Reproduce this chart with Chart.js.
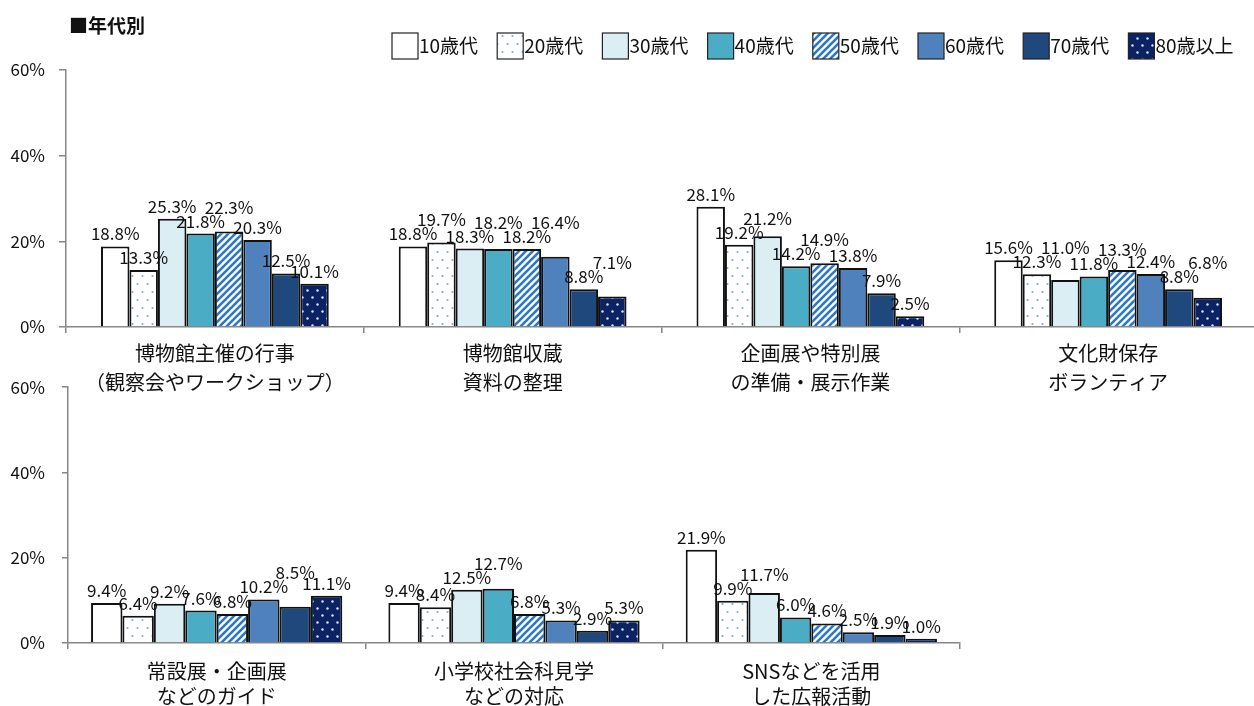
<!DOCTYPE html>
<html>
<head>
<meta charset="utf-8">
<script src="https://cdn.jsdelivr.net/npm/chart.js@4/dist/chart.umd.min.js"></script>
<style>
  body { margin: 0; width: 1254px; height: 706px; overflow: hidden; background: #fff; position: relative; }
  .box { position: absolute; left: 0; }
</style>
</head>
<body>
<div class="box" style="top:0"><canvas id="topChart" width="1262" height="400"></canvas></div>
<div class="box" style="top:360px"><canvas id="bottomChart" width="1254" height="346"></canvas></div>
<script>
// age groups (series)
var ageGroups = ['10歳代', '20歳代', '30歳代', '40歳代', '50歳代', '60歳代', '70歳代', '80歳以上'];

// categories
var topCategories = [
  ['博物館主催の行事', '（観察会やワークショップ）'],
  ['博物館収蔵', '資料の整理'],
  ['企画展や特別展', 'の準備・展示作業'],
  ['文化財保存', 'ボランティア']
];
var bottomCategories = [
  ['常設展・企画展', 'などのガイド'],
  ['小学校社会科見学', 'などの対応'],
  ['SNSなどを活用', 'した広報活動']
];

// values (%) per category, in age group order
var museumEvents      = [18.8, 13.3, 25.3, 21.8, 22.3, 20.3, 12.5, 10.1];
var collectionWork    = [18.8, 19.7, 18.3, 18.2, 18.2, 16.4, 8.8, 7.1];
var exhibitPrep       = [28.1, 19.2, 21.2, 14.2, 14.9, 13.8, 7.9, 2.5];
var heritageVolunteer = [15.6, 12.3, 11.0, 11.8, 13.3, 12.4, 8.8, 6.8];
var guideTours        = [9.4, 6.4, 9.2, 7.6, 6.8, 10.2, 8.5, 11.1];
var schoolVisits      = [9.4, 8.4, 12.5, 12.7, 6.8, 5.3, 2.9, 5.3];
var snsActivities     = [21.9, 9.9, 11.7, 6.0, 4.6, 2.5, 1.9, 1.0];

var yTicks = [0, 20, 40, 60];

var FONT = "'Noto Sans CJK JP', 'Noto Sans', sans-serif";
var AXIS_COLOR = '#868686';

// fills
function makePattern(kind) {
  var c = document.createElement('canvas');
  var g = c.getContext('2d');
  if (kind == 'dots') {
    c.width = 10; c.height = 16;
    g.fillStyle = '#ffffff'; g.fillRect(0, 0, 10, 16);
    g.fillStyle = '#7aaade';
    g.beginPath(); g.arc(2.5, 4, 1.1, 0, Math.PI * 2); g.fill();
    g.beginPath(); g.arc(7.5, 12, 1.1, 0, Math.PI * 2); g.fill();
  } else if (kind == 'navydots') {
    c.width = 10; c.height = 14;
    g.fillStyle = '#0b2263'; g.fillRect(0, 0, 10, 14);
    g.fillStyle = '#dfe6f5';
    g.beginPath(); g.arc(2.5, 3.5, 1.2, 0, Math.PI * 2); g.fill();
    g.beginPath(); g.arc(7.5, 10.5, 1.2, 0, Math.PI * 2); g.fill();
  } else {
    var s = 7;
    c.width = s; c.height = s;
    g.fillStyle = '#ffffff'; g.fillRect(0, 0, s, s);
    g.strokeStyle = '#2b78c8'; g.lineWidth = 2.6;
    g.beginPath();
    g.moveTo(-1, s + 1); g.lineTo(s + 1, -1);
    g.moveTo(-s / 2 - 1, s / 2 + 1); g.lineTo(s / 2 + 1, -s / 2 - 1);
    g.moveTo(s / 2 - 1, s * 1.5 + 1); g.lineTo(s * 1.5 + 1, s / 2 - 1);
    g.stroke();
  }
  return g.createPattern(c, 'repeat');
}

var fills = ['#ffffff', makePattern('dots'), '#daeef3', '#4bacc6', makePattern('stripes'), '#4f81bd', '#1f497d', makePattern('navydots')];

function buildDatasets(rows) {
  return ageGroups.map(function(name, i) {
    return {
      label: name,
      data: rows.map(function(r) { return r[i]; }),
      backgroundColor: fills[i],
      borderColor: '#111111',
      borderWidth: 2,
      barPercentage: 1
    };
  });
}

// value labels above the bars, nudged up when they collide with a neighbour
var valueLabels = {
  id: 'valueLabels',
  afterDatasetsDraw: function(chart) {
    var ctx = chart.ctx;
    var h = 14;
    ctx.save();
    ctx.font = '17px ' + FONT;
    ctx.fillStyle = '#111';
    ctx.textAlign = 'center';
    ctx.textBaseline = 'bottom';
    var n = chart.data.labels.length;
    for (var j = 0; j < n; j++) {
      var placed = [];
      chart.data.datasets.forEach(function(ds, i) {
        var bar = chart.getDatasetMeta(i).data[j];
        var txt = ds.data[j].toFixed(1) + '%';
        var w = ctx.measureText(txt).width;
        var lab = { x: bar.x, w: w, bottom: bar.y - 6 };
        lab.top = lab.bottom - h;
        var moved = true;
        while (moved) {
          moved = false;
          for (var k = 0; k < placed.length; k++) {
            var p = placed[k];
            var hor = Math.abs(lab.x - p.x) < (lab.w + p.w) / 2 - 10;
            var ver = lab.top < p.bottom - 5 && lab.bottom > p.top + 5;
            if (hor && ver) {
              lab.bottom = p.top;
              lab.top = lab.bottom - h;
              moved = true;
            }
          }
        }
        placed.push(lab);
        ctx.fillText(txt, lab.x, lab.bottom + 2);
      });
    }
    ctx.restore();
  }
};

var headerAndLegend = {
  id: 'headerAndLegend',
  afterDraw: function(chart) {
    var ctx = chart.ctx;
    ctx.save();
    ctx.fillStyle = '#111';
    ctx.font = 'bold 19px ' + FONT;
    ctx.textBaseline = 'middle';
    ctx.textAlign = 'left';
    ctx.fillText('■年代別', 69, 26);

    ctx.font = '19px ' + FONT;
    var x = 392;
    chart.data.datasets.forEach(function(ds, i) {
      ctx.fillStyle = ds.backgroundColor;
      ctx.fillRect(x, 33, 26, 26);
      ctx.strokeStyle = '#222';
      ctx.lineWidth = 1.2;
      ctx.strokeRect(x, 33, 26, 26);
      ctx.fillStyle = '#111';
      ctx.fillText(ds.label, x + 27, 46);
      x += 105.2;
    });
    ctx.restore();
  }
};

function makeOptions(yWidth, xHeight, pad, catPct, lineH, xPad, tickLen, tickPad) {
  return {
    responsive: false,
    animation: false,
    layout: { padding: pad },
    datasets: { bar: { categoryPercentage: catPct } },
    plugins: { legend: { display: false }, tooltip: { enabled: false } },
    scales: {
      x: {
        offset: true,
        grid: { offset: true, drawOnChartArea: false, drawTicks: true, tickLength: 6, color: AXIS_COLOR, lineWidth: 1.5 },
        border: { color: AXIS_COLOR, width: 1.5 },
        ticks: { autoSkip: false, maxRotation: 0, padding: xPad, color: '#111', font: { family: FONT, size: 20, lineHeight: lineH } },
        afterFit: function(s) { s.height = xHeight; }
      },
      y: {
        min: 0, max: 60,
        afterBuildTicks: function(s) { s.ticks = yTicks.map(function(v) { return { value: v }; }); },
        grid: { drawOnChartArea: false, drawTicks: true, tickLength: tickLen, color: AXIS_COLOR, lineWidth: 1.5 },
        border: { color: AXIS_COLOR, width: 1.5 },
        ticks: { padding: tickPad, color: '#111', font: { family: FONT, size: 17 }, callback: function(v) { return v + '%'; } },
        afterFit: function(s) { s.width = yWidth; }
      }
    }
  };
}

new Chart(document.getElementById('topChart'), {
  type: 'bar',
  data: {
    labels: topCategories,
    datasets: buildDatasets([museumEvents, collectionWork, exhibitPrep, heritageVolunteer])
  },
  options: makeOptions(66, 73, { left: 0, top: 70, right: 5, bottom: 0 }, 0.765, 1.45, 6, 7, 14),
  plugins: [valueLabels, headerAndLegend]
});

new Chart(document.getElementById('bottomChart'), {
  type: 'bar',
  data: {
    labels: bottomCategories,
    datasets: buildDatasets([guideTours, schoolVisits, snsActivities])
  },
  options: makeOptions(68, 63, { left: 0, top: 25, right: 294, bottom: 0 }, 0.845, 1.25, 10, 6, 17),
  plugins: [valueLabels]
});
</script>
</body>
</html>
